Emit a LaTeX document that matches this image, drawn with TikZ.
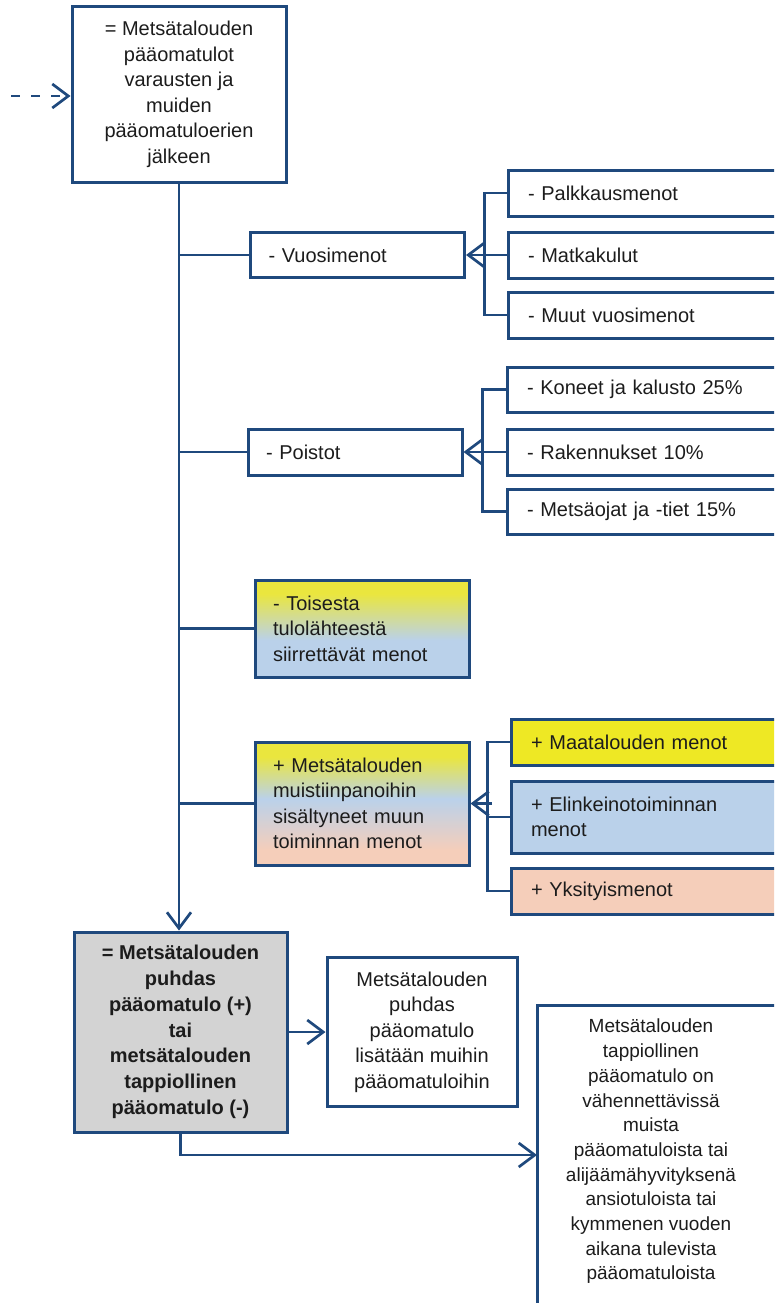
\documentclass[tikz,border=0pt]{standalone}
\usepackage{fontspec}
\setmainfont{Liberation Sans}
\usetikzlibrary{arrows.meta}

\definecolor{lineblue}{HTML}{1F497D}
\definecolor{txt}{RGB}{28,28,28}
\definecolor{fillyellow}{RGB}{238,232,36}
\definecolor{softyellow}{RGB}{234,230,62}
\definecolor{fillblue}{RGB}{186,209,234}
\definecolor{fillpeach}{RGB}{245,206,186}
\definecolor{fillgray}{RGB}{211,211,211}

% yellow at the top fading into blue
\pgfdeclareverticalshading{yellowblue}{100bp}{color(0bp)=(fillblue); color(44bp)=(fillblue); color(68bp)=(softyellow); color(100bp)=(softyellow)}
% yellow, then blue, then peach towards the bottom
\pgfdeclareverticalshading{yellowbluepeach}{100bp}{color(0bp)=(fillpeach); color(31bp)=(fillpeach); color(52bp)=(fillblue); color(69bp)=(softyellow); color(100bp)=(softyellow)}

\tikzset{
  box/.style={draw=lineblue, line width=3pt, inner ysep=0pt, text=txt,
    font=\fontsize{20}{25.5}\selectfont},
  lbox/.style={box, align=left, inner xsep=18pt},
  rbox/.style={box, align=left, inner xsep=20pt, minimum width=282pt, text width=242pt},
  cbox/.style={box, align=center, inner xsep=0pt},
  conn/.style={draw=lineblue, line width=2.7pt},
  arr/.style={-{Straight Barb[length=16pt,width=24pt]}},
}

\begin{document}
\begin{tikzpicture}[x=1pt,y=-1pt]
\useasboundingbox (0,0) rectangle (774,1303);
\clip (0,0) rectangle (774,1303);

% starting amount
\node[cbox, minimum width=214pt, minimum height=175pt] (top) at (179,94.5)
  {= Metsätalouden\\pääomatulot\\varausten ja\\muiden\\pääomatuloerien\\jälkeen};
\coordinate (dstart) at (11,96);
\draw[conn, arr, dash pattern=on 9pt off 11pt] (dstart) -- (dstart -| top.west);

% annual expenses
\node[lbox, minimum width=214pt, minimum height=45pt, text width=178pt] (vuosi) at (357.5,255) {- Vuosimenot};
\node[rbox, minimum height=46pt] (palk) at (649,193) {- Palkkausmenot};
\node[rbox, minimum height=46pt] (matk) at (649,255) {- Matkakulut};
\node[rbox, minimum height=46pt] (muut) at (649,315) {- Muut vuosimenot};
\draw[conn] (palk.west) -- ++(-22,0) |- (muut.west);
\draw[conn, arr] (matk.west) -- (vuosi.east);

% depreciation
\node[lbox, minimum width=214pt, minimum height=46pt, text width=178pt] (poist) at (355,452) {- Poistot};
\node[rbox, minimum height=45pt] (koneet) at (648,389.5) {- Koneet ja kalusto 25\%};
\node[rbox, minimum height=46pt] (raken) at (648,452) {- Rakennukset 10\%};
\node[rbox, minimum height=45pt] (metsoj) at (648,511.5) {- Metsäojat ja -tiet 15\%};
\draw[conn] (koneet.west) -- ++(-23,0) |- (metsoj.west);
\draw[conn, arr] (raken.west) -- (poist.east);

% transferred expenses
\node[lbox, shading=yellowblue, minimum width=214pt, minimum height=97pt, text width=178pt] (toises) at (362,628.5)
  {- Toisesta\\tulolähteestä\\siirrettävät menot};

% expenses of other activities
\node[lbox, shading=yellowbluepeach, minimum width=214pt, minimum height=123pt, text width=178pt] (muist) at (362,803.5)
  {+ Metsätalouden\\muistiinpanoihin\\sisältyneet muun\\toiminnan menot};
\node[rbox, fill=fillyellow, minimum width=276pt, minimum height=46pt] (maat) at (652,742) {+ Maatalouden menot};
\node[rbox, fill=fillblue, minimum width=276pt, minimum height=72pt] (elink) at (652,817) {+ Elinkeinotoiminnan\\menot};
\node[rbox, fill=fillpeach, minimum width=276pt, minimum height=46pt] (yksit) at (652,891) {+ Yksityismenot};
\draw[conn] (maat.west) -- ++(-22,0) |- (yksit.west);
\draw[conn] (elink.west) -- ++(-22,0);
\coordinate (mbr) at (492,803.5);
\draw[conn, arr] (mbr) -- (muist.east);

% result
\node[cbox, fill=fillgray, font=\fontsize{20}{25.8}\selectfont\bfseries, minimum width=213pt, minimum height=200pt] (gray) at (180.5,1032)
  {= Metsätalouden\\puhdas\\pääomatulo (+)\\tai\\metsätalouden\\tappiollinen\\pääomatulo (-)};

% trunk with its branches
\draw[conn, arr] (top.south) -- (top.south |- gray.north);
\draw[conn] (top.south |- vuosi.west) -- (vuosi.west);
\draw[conn] (top.south |- poist.west) -- (poist.west);
\draw[conn] (top.south |- toises.west) -- (toises.west);
\draw[conn] (top.south |- muist.west) -- (muist.west);

% outcomes
\node[cbox, minimum width=190pt, minimum height=149pt] (lisaa) at (422,1032)
  {Metsätalouden\\puhdas\\pääomatulo\\lisätään muihin\\pääomatuloihin};
\draw[conn, arr] (gray.east) -- (lisaa.west);

\node[box, minimum width=253pt, minimum height=330pt, anchor=north] (big) at (663.5,1004) {};
\node[align=center, text=txt, inner sep=0pt, font=\fontsize{19}{24.7}\selectfont] (bigtext) at (651,1151.5)
  {Metsätalouden\\tappiollinen\\pääomatulo on\\vähennettävissä\\muista\\pääomatuloista tai\\alijäämähyvityksenä\\ansiotuloista tai\\kymmenen vuoden\\aikana tulevista\\pääomatuloista};
\coordinate (bigin) at (537,1155);
\draw[conn, arr] (gray.south) |- (bigin);
\end{tikzpicture}
\end{document}
